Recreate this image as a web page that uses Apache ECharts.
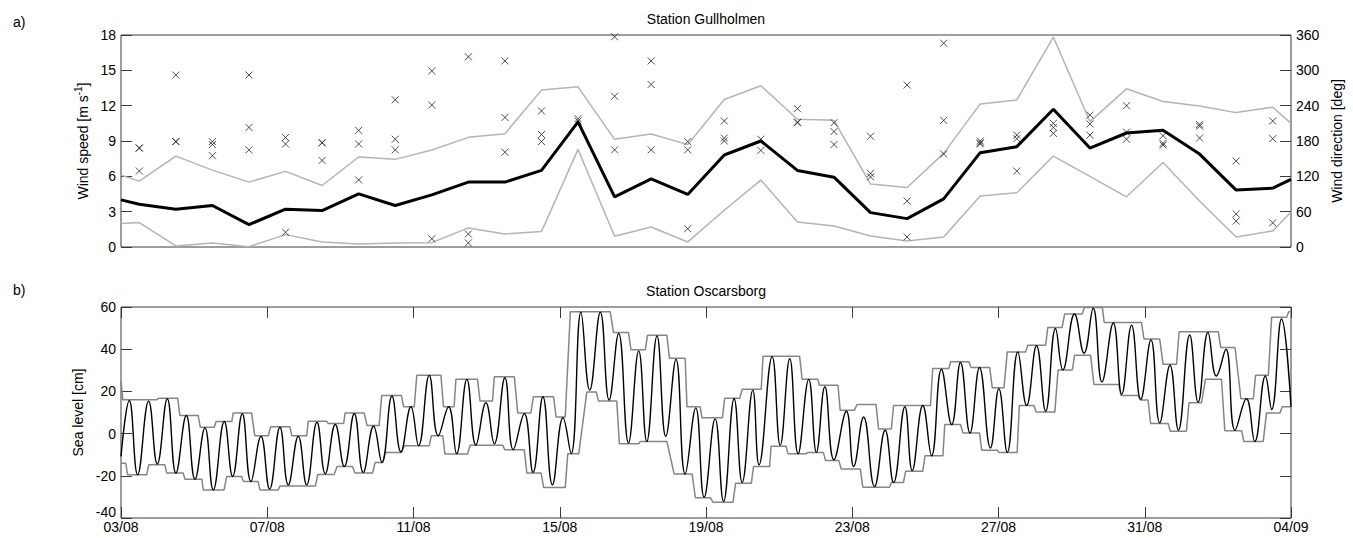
<!DOCTYPE html>
<html><head><meta charset="utf-8">
<script src="https://cdn.jsdelivr.net/npm/echarts@6/dist/echarts.min.js"></script>
<style>html,body{margin:0;padding:0;background:#fff}#c{width:1353px;height:538px}</style>
</head><body><div id="c"></div>
<script>
// ---------- Panel a) Station Gullholmen ----------
const windTimes = [0, 0.5, 1.5, 2.5, 3.5, 4.5, 5.5, 6.5, 7.5, 8.5, 9.5, 10.5, 11.5, 12.5, 13.5, 14.5, 15.5, 16.5, 17.5, 18.5, 19.5, 20.5, 21.5, 22.5, 23.5, 24.5, 25.5, 26.5, 27.5, 28.5, 29.5, 30.5, 31.5, 32];
const windMean = [4.0, 3.63, 3.21, 3.52, 1.90, 3.21, 3.09, 4.51, 3.52, 4.43, 5.51, 5.51, 6.50, 10.62, 4.26, 5.79, 4.46, 7.81, 9.00, 6.50, 5.93, 2.92, 2.41, 4.09, 8.01, 8.52, 11.70, 8.40, 9.68, 9.91, 7.89, 4.83, 5.0, 5.74];
const windMax = [6.1, 5.59, 7.72, 6.53, 5.51, 6.42, 5.22, 7.64, 7.44, 8.23, 9.31, 9.62, 13.32, 13.60, 9.14, 9.60, 8.69, 12.52, 13.69, 10.85, 10.76, 5.34, 5.05, 7.95, 12.15, 12.49, 17.83, 10.65, 13.43, 12.35, 11.98, 11.41, 11.87, 10.5];
const windMin = [1.99, 2.07, 0.09, 0.34, 0.03, 1.05, 0.43, 0.26, 0.34, 0.37, 1.62, 1.11, 1.31, 8.29, 0.91, 1.70, 0.43, 3.12, 5.68, 2.13, 1.79, 0.94, 0.51, 0.85, 4.32, 4.60, 7.72, 6.0, 4.26, 7.18, 3.9, 0.85, 1.36, 2.98];
// wind direction observations [deg], one group per day (days 0.5 ... 31.5)
const windDirDays = [0.5, 1.5, 2.5, 3.5, 4.5, 5.5, 6.5, 7.5, 8.5, 9.5, 10.5, 11.5, 12.5, 13.5, 14.5, 15.5, 16.5, 17.5, 18.5, 19.5, 20.5, 21.5, 22.5, 23.5, 24.5, 25.5, 26.5, 27.5, 28.5, 29.5, 30.5, 31.5];
const windDir = [
  [168, 168, 129], [292, 179, 179], [179, 174, 155], [292, 203, 165], [186, 175, 25],
  [177, 177, 147], [198, 175, 114], [250, 183, 165], [299, 241, 14], [323, 22, 7],
  [316, 220, 161], [231, 191, 179], [218, 214], [357, 256, 165], [316, 276, 165],
  [179, 165, 31], [214, 185, 180], [183, 164], [235, 212, 211], [211, 196, 174],
  [188, 125, 119], [275, 78, 17], [346, 215, 158], [180, 177, 175], [190, 184, 129],
  [210, 203, 193], [224, 209, 190], [240, 195, 183], [189, 176, 173], [208, 205, 185],
  [146, 56, 44], [214, 184, 41]
];

// ---------- Panel b) Station Oscarsborg ----------
const slDays = [0.00, 0.227, 0.455, 0.756, 0.993, 1.266, 1.503, 1.786, 2.023, 2.296, 2.524, 2.825, 3.053, 3.317, 3.554, 3.828, 4.065, 4.347, 4.575, 4.849, 5.077, 5.360, 5.587, 5.861, 6.107, 6.380, 6.626, 6.909, 7.137, 7.410, 7.656, 7.930, 8.139, 8.431, 8.677, 8.960, 9.178, 9.461, 9.707, 9.981, 10.21, 10.50, 10.73, 11.03, 11.27, 11.54, 11.80, 12.09, 12.31, 12.58, 12.82, 13.11, 13.35, 13.61, 13.88, 14.16, 14.38, 14.66, 14.90, 15.18, 15.43, 15.72, 15.95, 16.25, 16.48, 16.77, 16.99, 17.28, 17.45, 17.81, 18.03, 18.29, 18.52, 18.81, 19.02, 19.25, 19.50, 19.84, 20.04, 20.31, 20.61, 20.90, 21.13, 21.44, 21.64, 21.93, 22.17, 22.44, 22.72, 22.96, 23.22, 23.48, 23.78, 24.01, 24.24, 24.53, 24.77, 25.04, 25.29, 25.56, 25.76, 26.08, 26.34, 26.59, 26.83, 27.14, 27.37, 27.64, 27.89, 28.17, 28.41, 28.69, 28.92, 29.23, 29.46, 29.73, 29.96, 30.22, 30.47, 30.78, 31.01, 31.30, 31.47, 31.74, 32.00];
const slLevel = [-10.8, 15.7, -19.5, 15.4, -14.4, 16.5, -18.7, 8.6, -21.6, 2.7, -26.7, 5.7, -20.3, 9.4, -22.7, -1.3, -26.3, 3.0, -24.3, -1.3, -24.3, 5.4, -19.0, 4.3, -15.6, 9.4, -18.4, 3.5, -13.7, 17.8, -8.7, 12.7, -5.7, 27.6, -1.0, 12.7, -9.5, 25.7, -5.4, 14.6, -4.8, 26.5, -7.6, 9.4, -18.4, 17.5, -24.3, 7.5, -9.5, 57.5, 20.6, 57.5, 15.9, 47.5, -4.4, 39.2, -3.7, 46.3, -1.3, 35.2, -19.2, 12.2, -30.2, 7.0, -32.2, 16.5, -23.2, 20.6, -14.8, 36.5, -5.6, 35.6, -9.5, 25.7, -8.9, 22.2, -12.4, 10.6, -15.6, 7.9, -25.1, 1.6, -23.2, 12.7, -17.5, 13.3, -10.5, 30.5, 4.3, 33.7, 0.3, 31.3, -6.8, 21.3, -8.9, 38.7, 13.3, 41.6, 10.6, 49.8, 30.2, 56.7, 38.1, 59.4, 24.5, 52.4, 18.6, 51.4, 16.2, 44.4, 5.1, 32.4, 1.6, 46.7, 14.9, 47.9, 27.3, 40.0, 1.6, 16.5, -3.7, 27.3, 11.4, 54.3, 12.7];
// upper envelope plateaus (start day, end day, level cm)
const upStart = [0, 0.05, 1.02, 1.61, 2.17, 2.60, 3.07, 3.66, 4.09, 4.67, 5.12, 5.67, 6.13, 6.73, 7.13, 7.73, 8.09, 8.82, 9.16, 9.82, 10.21, 10.85, 11.28, 11.90, 12.29, 13.47, 13.95, 14.40, 15.00, 15.48, 15.89, 16.51, 16.99, 17.56, 18.63, 19.10, 19.67, 20.13, 20.72, 21.13, 22.20, 22.69, 23.25, 23.83, 24.24, 24.80, 25.35, 25.81, 26.35, 26.89, 27.98, 28.50, 28.94, 30.08, 30.63, 31.03, 31.47, 31.94];
const upEnd = [0, 0.98, 1.55, 2.11, 2.55, 3.03, 3.57, 4.03, 4.62, 5.08, 5.63, 6.09, 6.65, 7.06, 7.67, 8.02, 8.75, 9.11, 9.75, 10.16, 10.76, 11.21, 11.83, 12.15, 13.38, 13.88, 14.34, 14.93, 15.43, 15.84, 16.45, 16.92, 17.51, 18.56, 19.06, 19.61, 20.06, 20.65, 21.07, 22.14, 22.64, 23.19, 23.76, 24.15, 24.74, 25.29, 25.74, 26.29, 26.84, 27.91, 28.41, 28.87, 30.01, 30.47, 30.97, 31.38, 31.88, 32.0];
const upLevel = [24.9, 16.0, 16.8, 8.6, 3.0, 5.7, 9.8, -1.0, 3.2, -1.0, 5.8, 4.8, 9.8, 3.8, 18.1, 12.7, 27.6, 12.7, 25.7, 15.4, 26.9, 9.8, 17.5, 7.9, 57.8, 47.9, 39.7, 46.6, 35.7, 12.7, 7.5, 16.7, 21.0, 36.7, 25.7, 22.9, 11.1, 13.8, 2.2, 13.3, 30.8, 34.0, 31.3, 21.7, 38.7, 41.9, 50.3, 56.7, 59.8, 52.7, 44.8, 32.9, 48.3, 40.8, 16.5, 27.6, 55.1, 57.8];
// lower envelope plateaus
const lowStart = [0, 0.18, 0.76, 1.25, 1.75, 2.25, 2.89, 3.35, 3.80, 4.35, 5.38, 5.91, 6.40, 6.95, 7.22, 7.75, 8.49, 8.86, 9.55, 10.50, 11.10, 11.56, 12.22, 12.74, 13.06, 13.63, 14.20, 15.13, 15.71, 16.19, 16.81, 17.30, 17.78, 18.24, 18.79, 19.27, 19.70, 20.29, 21.07, 21.46, 21.99, 22.53, 23.03, 23.54, 24.01, 24.57, 25.03, 25.63, 26.08, 26.61, 27.35, 27.88, 28.16, 28.70, 29.21, 29.66, 30.19, 30.71, 31.33, 31.76];
const lowEnd = [0.13, 0.70, 1.20, 1.70, 2.21, 2.82, 3.30, 3.75, 4.30, 5.32, 5.83, 6.33, 6.88, 7.16, 7.67, 8.43, 8.80, 9.48, 10.44, 11.03, 11.49, 12.15, 12.52, 13.00, 13.56, 14.16, 14.93, 15.62, 16.12, 16.74, 17.24, 17.74, 18.19, 18.74, 19.21, 19.63, 20.22, 21.02, 21.40, 21.93, 22.48, 22.96, 23.48, 23.97, 24.51, 24.97, 25.54, 26.02, 26.52, 27.29, 27.82, 28.09, 28.64, 29.14, 29.55, 30.10, 30.65, 31.24, 31.70, 32.0];
const lowLevel = [-14.0, -19.5, -14.8, -18.7, -21.6, -26.7, -20.3, -22.7, -26.7, -24.8, -19.4, -15.6, -18.7, -13.7, -8.9, -5.7, -1.0, -9.7, -5.5, -7.7, -18.7, -25.6, -9.5, 19.7, 15.4, -4.8, -3.7, -19.2, -30.4, -32.5, -23.5, -15.6, -6.0, -9.5, -8.9, -12.7, -16.8, -25.4, -23.2, -17.9, -10.5, 4.3, 0.3, -7.9, -8.9, 13.3, 10.2, 30.2, 37.1, 23.3, 18.1, 15.9, 4.8, 1.1, 14.6, 25.7, 1.4, -3.7, 9.8, 12.7];

// x-axis tick labels (day offset from 03/08)
const xTickDays = [0, 4, 8, 12, 16, 20, 24, 28, 32];
const xTickLabels = ['03/08', '07/08', '11/08', '15/08', '19/08', '23/08', '27/08', '31/08', '04/09'];

// ---------- build ----------
const FONT = "'Liberation Sans', Arial, sans-serif";
const AX = '#3a3a3a';
const zip = (xs, ys) => xs.map((x, i) => [x, ys[i]]);
const plateaus = (s, e, l) => { const out = []; s.forEach((v, i) => { out.push([v, l[i]]); out.push([e[i], l[i]]); }); return out; };
const dirData = []; windDir.forEach((g, i) => g.forEach(d => dirData.push([windDirDays[i], d])));

const tick = { show: true, inside: true, length: 11, lineStyle: { color: AX, width: 1 } };
const noLine = { show: false, onZero: false };
const lbl = { fontSize: 14, fontFamily: FONT, color: '#000', margin: 5 };
const nameStyle = { fontSize: 14, fontFamily: FONT, color: '#000' };

const chart = echarts.init(document.getElementById('c'), null, { renderer: 'svg' });
chart.setOption({
  animation: false,
  backgroundColor: '#fff',
  grid: [
    { left: 121, top: 35, width: 1170, height: 212, show: true, borderColor: AX, borderWidth: 1 },
    { left: 121, top: 307, width: 1170, height: 211, show: true, borderColor: AX, borderWidth: 1 }
  ],
  xAxis: [
    { gridIndex: 0, type: 'value', min: 0, max: 32, interval: 4, axisLine: noLine, axisTick: { show: false }, axisLabel: { show: false }, splitLine: { show: false } },
    { gridIndex: 1, type: 'value', min: 0, max: 32, interval: 4, position: 'bottom', axisLine: noLine, axisTick: tick,
      axisLabel: Object.assign({}, lbl, { margin: 2, formatter: v => { const i = xTickDays.indexOf(v); return i >= 0 ? xTickLabels[i] : ''; } }), splitLine: { show: false } },
    { gridIndex: 1, type: 'value', min: 0, max: 32, interval: 4, position: 'top', axisLine: noLine, axisTick: tick, axisLabel: { show: false }, splitLine: { show: false } }
  ],
  yAxis: [
    { gridIndex: 0, type: 'value', min: 0, max: 18, interval: 3, position: 'left', axisLine: noLine, axisTick: tick, axisLabel: lbl, splitLine: { show: false },
      name: '{a|Wind speed [m s}{b|-1}{a|]}', nameLocation: 'middle', nameRotate: 90, nameGap: 25,
      nameTextStyle: Object.assign({}, nameStyle, { rich: { a: { fontSize: 14, fontFamily: FONT, color: '#000', lineHeight: 18 }, b: { fontSize: 10, fontFamily: FONT, color: '#000', verticalAlign: 'top', lineHeight: 18 } } }) },
    { gridIndex: 0, type: 'value', min: 0, max: 360, interval: 60, position: 'right', axisLine: noLine, axisTick: tick, axisLabel: lbl, splitLine: { show: false },
      name: 'Wind direction [deg]', nameLocation: 'middle', nameRotate: 90, nameGap: 36, nameTextStyle: nameStyle },
    { gridIndex: 1, type: 'value', min: -40, max: 60, interval: 20, position: 'left', axisLine: noLine, axisTick: tick, splitLine: { show: false },
      axisLabel: Object.assign({}, lbl, { formatter: v => v === -40 ? '{lo|' + v + '}' : String(v), rich: { lo: { fontSize: 14, fontFamily: FONT, color: '#000', padding: [0, 0, 12, 0] } } }),
      name: 'Sea level [cm]', nameLocation: 'middle', nameRotate: 90, nameGap: 25, nameTextStyle: nameStyle },
    { gridIndex: 1, type: 'value', min: -40, max: 60, interval: 20, position: 'right', axisLine: noLine, axisTick: tick, axisLabel: { show: false }, splitLine: { show: false } }
  ],
  graphic: [
    { type: 'text', x: 706, y: 19, style: { text: 'Station Gullholmen', fontSize: 14, fontFamily: FONT, fill: '#000', align: 'center', verticalAlign: 'middle' } },
    { type: 'text', x: 706, y: 291, style: { text: 'Station Oscarsborg', fontSize: 14, fontFamily: FONT, fill: '#000', align: 'center', verticalAlign: 'middle' } },
    { type: 'text', x: 13, y: 22, style: { text: 'a)', fontSize: 14, fontFamily: FONT, fill: '#000', align: 'left', verticalAlign: 'middle' } },
    { type: 'text', x: 13, y: 290, style: { text: 'b)', fontSize: 14, fontFamily: FONT, fill: '#000', align: 'left', verticalAlign: 'middle' } }
  ],
  series: [
    { type: 'line', xAxisIndex: 0, yAxisIndex: 0, data: zip(windTimes, windMax), symbol: 'none', lineStyle: { color: '#b4b4b4', width: 1.5 }, z: 2 },
    { type: 'line', xAxisIndex: 0, yAxisIndex: 0, data: zip(windTimes, windMin), symbol: 'none', lineStyle: { color: '#b4b4b4', width: 1.5 }, z: 2 },
    { type: 'scatter', xAxisIndex: 0, yAxisIndex: 1, data: dirData, symbol: 'path://M0,0L10,10M10,0L0,10', symbolSize: 7,
      itemStyle: { color: 'rgba(0,0,0,0)', borderColor: '#222', borderWidth: 1 }, z: 3 },
    { type: 'line', xAxisIndex: 0, yAxisIndex: 0, data: zip(windTimes, windMean), symbol: 'none', lineStyle: { color: '#000', width: 3 }, z: 4 },
    { type: 'line', xAxisIndex: 1, yAxisIndex: 2, data: plateaus(upStart, upEnd, upLevel), symbol: 'none', lineStyle: { color: '#858585', width: 1.5 }, z: 2 },
    { type: 'line', xAxisIndex: 1, yAxisIndex: 2, data: plateaus(lowStart, lowEnd, lowLevel), symbol: 'none', lineStyle: { color: '#858585', width: 1.5 }, z: 2 },
    { type: 'line', xAxisIndex: 1, yAxisIndex: 2, data: zip(slDays, slLevel), symbol: 'none', smooth: 0.45, lineStyle: { color: '#000', width: 1.4 }, z: 3 }
  ]
});
</script>
</body></html>
